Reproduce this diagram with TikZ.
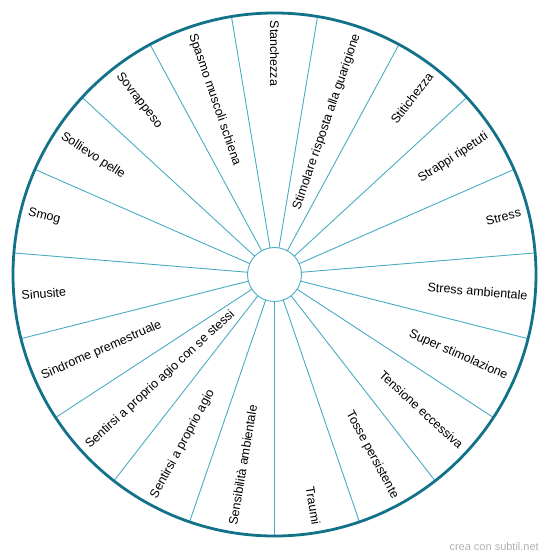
\documentclass[tikz,border=0pt]{standalone}
\usepackage{fontspec}
\setmainfont{Liberation Sans}
\usepackage{xcolor}
\usetikzlibrary{positioning, calc}
\definecolor{rimcol}{RGB}{18,114,138}
\definecolor{spokecol}{RGB}{72,172,196}
\definecolor{markcol}{RGB}{178,178,178}

\begin{document}
\begin{tikzpicture}[
    x=1pt, y=1pt,
    rim/.style={draw=rimcol, line width=2.8pt},
    spoke/.style={draw=spokecol, line width=0.9pt},
    hub/.style={draw=spokecol, line width=0.9pt, circle, minimum size=54pt, inner sep=0pt, fill=white},
    rlab/.style={anchor=east, inner sep=0pt, font=\fontsize{12.5}{14}\selectfont},
    llab/.style={anchor=west, inner sep=0pt, font=\fontsize{12.5}{14}\selectfont}
]
\useasboundingbox (-274.5,-284.5) rectangle (275.5,274.5);

% --- Spokes ---
\draw[spoke] (-90:27) -- (-90:261.5);
\draw[spoke] (-71.053:27) -- (-71.053:261.5);
\draw[spoke] (-52.105:27) -- (-52.105:261.5);
\draw[spoke] (-33.158:27) -- (-33.158:261.5);
\draw[spoke] (-14.211:27) -- (-14.211:261.5);
\draw[spoke] (4.737:27) -- (4.737:261.5);
\draw[spoke] (23.684:27) -- (23.684:261.5);
\draw[spoke] (42.632:27) -- (42.632:261.5);
\draw[spoke] (61.579:27) -- (61.579:261.5);
\draw[spoke] (80.526:27) -- (80.526:261.5);
\draw[spoke] (99.474:27) -- (99.474:261.5);
\draw[spoke] (118.421:27) -- (118.421:261.5);
\draw[spoke] (137.368:27) -- (137.368:261.5);
\draw[spoke] (156.316:27) -- (156.316:261.5);
\draw[spoke] (175.263:27) -- (175.263:261.5);
\draw[spoke] (194.211:27) -- (194.211:261.5);
\draw[spoke] (213.158:27) -- (213.158:261.5);
\draw[spoke] (232.105:27) -- (232.105:261.5);
\draw[spoke] (251.053:27) -- (251.053:261.5);

% --- Rim and hub ---
\draw[rim] (0,0) circle (261.5);
\node[hub] (hub) at (0,0) {};

% --- Right half labels ---
\node[rlab, rotate=-80.526] (traumi) at (-80.526:254) {Traumi};
\node[rlab, rotate=-61.579] (tosse) at (-61.579:254) {Tosse persistente};
\node[rlab, rotate=-42.632] (tensione) at (-42.632:254) {Tensione eccessiva};
\node[rlab, rotate=-23.684] (super) at (-23.684:254) {Super stimolazione};
\node[rlab, rotate=-4.737] (stressamb) at (-4.737:254) {Stress ambientale};
\node[rlab, rotate=14.211] (stress) at (14.211:254) {Stress};
\node[rlab, rotate=33.158] (strappi) at (33.158:254) {Strappi ripetuti};
\node[rlab, rotate=52.105] (stiti) at (52.105:254) {Stitichezza};
\node[rlab, rotate=71.053] (stimolare) at (71.053:254) {Stimolare risposta alla guarigione};

% --- Left half labels ---
\node[llab, rotate=-90] (stanchezza) at (90:254) {Stanchezza};
\node[llab, rotate=-71.053] (spasmo) at (108.947:254) {Spasmo muscoli schiena};
\node[llab, rotate=-52.105] (sovrappeso) at (127.895:254) {Sovrappeso};
\node[llab, rotate=-33.158] (sollievo) at (146.842:254) {Sollievo pelle};
\node[llab, rotate=-14.211] (smog) at (165.789:254) {Smog};
\node[llab, rotate=4.737] (sinusite) at (184.737:254) {Sinusite};
\node[llab, rotate=23.684] (sindrome) at (203.684:254) {Sindrome premestruale};
\node[llab, rotate=42.632] (agiose) at (222.632:254) {Sentirsi a proprio agio con se stessi};
\node[llab, rotate=61.579] (agio) at (241.579:254) {Sentirsi a proprio agio};
\node[llab, rotate=80.526] (sensib) at (260.526:254) {Sensibilità ambientale};

% Watermark
\node[anchor=east, inner sep=0pt, text=markcol, font=\fontsize{11}{13}\selectfont] (mark) at (264.5,-272.2) {crea con subtil.net};

\end{tikzpicture}
\end{document}
